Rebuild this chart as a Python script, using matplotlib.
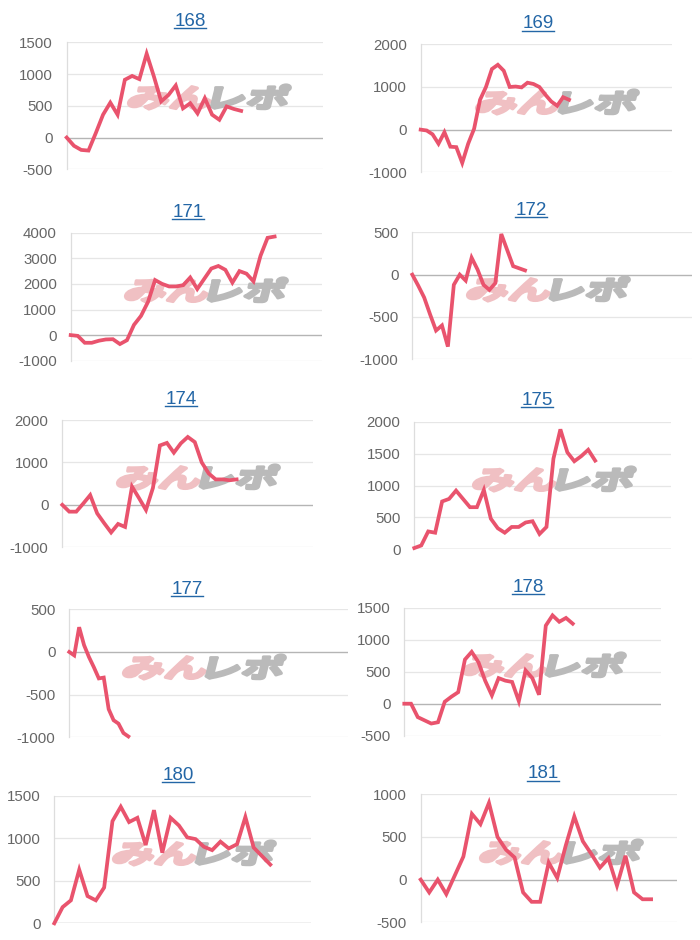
import numpy as np
import matplotlib
matplotlib.use("Agg")
import matplotlib.pyplot as plt
from matplotlib.textpath import TextPath
from matplotlib.patches import PathPatch
from matplotlib.font_manager import FontProperties
from matplotlib.transforms import Affine2D, ScaledTranslation
from matplotlib.lines import Line2D

plt.rcParams['font.family'] = ['Liberation Sans', 'DejaVu Sans']

# --- data ---
titles = ["168", "169", "171", "172", "174", "175", "177", "178", "180", "181"]

s168 = [0, -130, -195, -205, 70, 360, 550, 360, 910, 970, 920, 1320, 960, 570, 670,
        820, 460, 540, 380, 620, 360, 280, 490, 450, 420]
s169 = [0, -20, -110, -330, -60, -400, -410, -780, -330, 20, 700, 1000, 1420, 1520,
        1380, 1000, 1010, 990, 1100, 1070, 1000, 820, 660, 560, 760, 700]
s171 = [0, -30, -300, -300, -220, -170, -160, -350, -200, 400, 750, 1300, 2150, 2000,
        1900, 1900, 1950, 2250, 1800, 2200, 2600, 2700, 2550, 2050, 2500, 2400, 2100,
        3100, 3800, 3850]
s172 = [0, -130, -270, -470, -660, -600, -850, -120, 0, -70, 200, 60, -120, -180,
        -100, 480, 290, 100, 75, 50]
s174 = [0, -160, -160, 30, 230, -200, -430, -650, -450, -520, 430, 160, -120, 400,
        1400, 1460, 1230, 1450, 1600, 1480, 1000, 740, 600, 600, 580, 600]
s175 = [20, 60, 280, 260, 750, 790, 920, 790, 660, 660, 930, 480, 330, 260, 350, 350,
        420, 440, 240, 350, 1420, 1880, 1520, 1380, 1460, 1560, 1390]
s177 = [0, -40, 290, 80, -60, -180, -310, -300, -670, -800, -840, -950, -990]
s178 = [0, 0, -210, -260, -310, -290, 30, 110, 180, 690, 810, 650, 360, 130, 400, 360,
        340, 40, 520, 400, 140, 1220, 1380, 1280, 1340, 1250]
s180 = [0, 190, 270, 630, 320, 270, 420, 1200, 1370, 1190, 1240, 920, 1330, 830, 1240,
        1150, 1010, 990, 900, 860, 960, 880, 930, 1250, 890, 790, 690]
s181 = [0, -150, 0, -170, 50, 270, 770, 650, 900, 500, 350, 260, -150, -260, -260, 200,
        20, 400, 740, 450, 300, 140, 250, -70, 280, -150, -230, -230]
series = [s168, s169, s171, s172, s174, s175, s177, s178, s180, s181]

# y axis ranges and steps
y_lo = [-500, -1000, -1000, -1000, -1000, 0, -1000, -500, 0, -500]
y_hi = [1500, 2000, 4000, 500, 2000, 2000, 500, 1500, 1500, 1000]
y_step = [500, 1000, 1000, 500, 1000, 500, 500, 500, 500, 500]
# number of category slots on each x axis
x_slots = [35.3, 42.3, 35.7, 47.1, 36.0, 36.9, 56.7, 38.1, 30.9, 30.0]

# --- layout in pixels (left, right, top, bottom) ---
boxes = [(66.7, 323.3, 42.3, 169.3), (420.7, 671.7, 44.3, 172.3),
         (70.7, 321.7, 232.7, 360.7), (412.3, 691.7, 232.3, 359.3),
         (62.3, 313.3, 420.0, 547.3), (414.3, 671.0, 421.7, 549.3),
         (69.3, 348.3, 609.3, 737.3), (404.3, 661.0, 607.7, 735.7),
         (54.3, 311.0, 795.7, 923.3), (420.7, 676.7, 794.3, 922.3)]
title_pos = [(190, 26), (538, 28.5), (188, 217), (531, 215), (181, 404),
             (537, 405), (187, 593.5), (528, 591.5), (178, 780), (543, 778.5)]
# watermark centre in pixels
wm_pos = [(209, 97), (557, 102), (206, 290), (548, 289), (198, 477),
          (554, 479), (204, 667), (544, 665), (194, 853), (561, 852)]

W, H = 700, 940
fig = plt.figure(figsize=(W / 100, H / 100), dpi=100)
fig.patch.set_facecolor('white')

LINE = '#e9536d'
GRID = '#e6e6e6'
ZERO = '#b5b5b5'
TITLE = '#2366a6'
PINK = '#f0c0c3'
GREY = '#bababa'

# watermark paths
fp = FontProperties(family='Noto Sans CJK JP', weight='bold')
pa = TextPath((0, 0), 'みん', size=1, prop=fp)
pb = TextPath((0, 0), 'レポ', size=1, prop=fp)
ea, eb = pa.get_extents(), pb.get_extents()
gap = 0.04
wm_w = ea.width + gap + eb.width
wm_y0 = min(ea.y0, eb.y0)
wm_h = max(ea.y1, eb.y1) - wm_y0


def watermark(ax, cx, cy):
    sx = 158 / wm_w / 100
    sy = 24 / wm_h / 100
    base = Affine2D().translate(-ea.x0, -wm_y0 - wm_h / 2)
    base2 = Affine2D().translate(-eb.x0 + ea.width + gap, -wm_y0 - wm_h / 2)
    tail = (Affine2D().translate(-wm_w / 2, 0).scale(sx, sy).skew_deg(14, 0)
            + fig.dpi_scale_trans
            + ScaledTranslation(cx / W, 1 - cy / H, fig.transFigure))
    ax.add_patch(PathPatch(pa, transform=base + tail, facecolor=PINK,
                           edgecolor=PINK, lw=2.3, joinstyle='round',
                           zorder=1, clip_on=False))
    ax.add_patch(PathPatch(pb, transform=base2 + tail, facecolor=GREY,
                           edgecolor=GREY, lw=2.3, joinstyle='round',
                           zorder=1, clip_on=False))


for i in range(len(series)):
    l, r, t, b = boxes[i]
    ax = fig.add_axes([l / W, 1 - b / H, (r - l) / W, (b - t) / H])
    ax.set_facecolor('none')
    ys = series[i]
    xs = np.arange(len(ys))
    ax.set_xlim(0, x_slots[i])
    ax.set_ylim(y_lo[i], y_hi[i])
    ticks = np.arange(y_lo[i], y_hi[i] + 1, y_step[i])
    ax.set_yticks(ticks)
    ax.set_yticklabels([str(v) for v in ticks])
    ax.set_xticks([])
    for v in ticks:
        ax.axhline(v, color=ZERO if v == 0 else GRID, lw=1.0 if v == 0 else 0.9, zorder=0.5)
    for sp in ['top', 'right', 'bottom']:
        ax.spines[sp].set_visible(False)
    ax.spines['left'].set_color('#dddddd')
    ax.spines['left'].set_linewidth(0.9)
    ax.tick_params(axis='y', length=0, pad=10, labelsize=10.8, labelcolor='#666666')
    watermark(ax, *wm_pos[i])
    ax.plot(xs, ys, color=LINE, lw=2.7, solid_joinstyle='miter', zorder=3, clip_on=False)

    tx, ty = title_pos[i]
    fig.text(tx / W, 1 - ty / H, titles[i], ha='center', va='baseline',
             fontsize=13.5, color=TITLE)
    fig.add_artist(Line2D([(tx - 16) / W, (tx + 16) / W],
                          [1 - (ty + 2) / H, 1 - (ty + 2) / H],
                          color=TITLE, lw=1.0))

fig.savefig('out.png', dpi=100)
